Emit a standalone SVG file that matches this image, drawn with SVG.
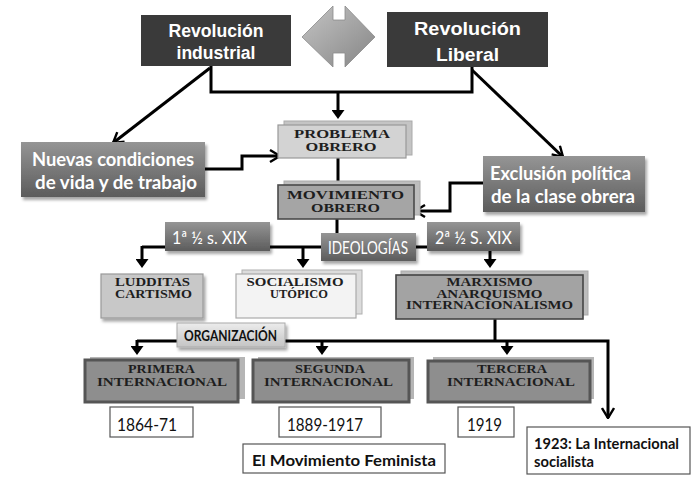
<svg xmlns="http://www.w3.org/2000/svg" width="697" height="483" viewBox="0 0 697 483">
<style>
.ln{fill:none;stroke:#000;stroke-width:3}
.rev{font-family:"Liberation Sans",Arial,sans-serif;font-weight:bold;font-size:18px;fill:#fff;text-anchor:middle}
.w{font-family:Lato,"Open Sans",sans-serif;font-weight:bold;font-size:18px;fill:#fff}
.wr{font-family:Lato,"Open Sans",sans-serif;font-size:18px;fill:#fff}
.s{font-family:"Liberation Serif","Times New Roman",serif;font-weight:bold;font-size:11.5px;fill:#1e1e1e;text-anchor:middle}
.c{font-family:Lato,"Open Sans",sans-serif;font-size:17px;fill:#111}
.cb{font-family:Lato,"Open Sans",sans-serif;font-weight:bold;font-size:15px;fill:#111}
.wb{fill:#fff;stroke:#555;stroke-width:1.2}
</style>
<defs>
<linearGradient id="gg" x1="0" y1="0" x2="0" y2="1">
<stop offset="0" stop-color="#959595"/><stop offset="1" stop-color="#5c5c5c"/>
</linearGradient>
<linearGradient id="gl" x1="0" y1="0" x2="0" y2="1">
<stop offset="0" stop-color="#ececec"/><stop offset="1" stop-color="#c4c4c4"/>
</linearGradient>
<linearGradient id="ga" x1="0" y1="0" x2="1" y2="1">
<stop offset="0" stop-color="#c4c4c4"/><stop offset="1" stop-color="#858585"/>
</linearGradient>
<filter id="sh" x="-10%" y="-20%" width="125%" height="150%">
<feDropShadow dx="2" dy="3" stdDeviation="1.8" flood-color="#000" flood-opacity="0.35"/>
</filter>
<marker id="tri" viewBox="0 0 9 13" refX="1" refY="6.5" markerWidth="9" markerHeight="13" markerUnits="userSpaceOnUse" orient="auto">
<path d="M0,0 L9,6.5 L0,13 z" fill="#000"/>
</marker>
<marker id="chev" viewBox="0 0 12 14" refX="11" refY="7" markerWidth="12" markerHeight="14" markerUnits="userSpaceOnUse" orient="auto">
<path d="M1,1 L11,7 L1,13" fill="none" stroke="#000" stroke-width="2.4"/>
</marker>
</defs>
<rect width="697" height="483" fill="#fff"/>

<g id="connectors">
<path class="ln" d="M211,66 V92 H472 V67"/>
<path class="ln" d="M338,92 V111" marker-end="url(#tri)"/>
<path class="ln" d="M210,68 L113,143" marker-end="url(#chev)"/>
<path class="ln" d="M472,70 L563,157" marker-end="url(#chev)"/>
<path class="ln" d="M205,169 H242 V156 H280" marker-end="url(#chev)"/>
<path class="ln" d="M483,183 H450 V211 H415" marker-end="url(#chev)"/>
<path class="ln" d="M338,158 V184" stroke-width="4"/>
<path class="ln" d="M337,219 V233" stroke-width="4"/>
<path class="ln" d="M142,247 H322"/>
<path class="ln" d="M142,246 V260" marker-end="url(#tri)"/>
<path class="ln" d="M303,246 V260" marker-end="url(#tri)"/>
<path class="ln" d="M416,247 H427"/>
<path class="ln" d="M490,251 V260" marker-end="url(#tri)"/>
<path class="ln" d="M495,319 V341" stroke-width="4"/>
<path class="ln" d="M137,341 H608 V418" marker-end="url(#chev)"/>
<path class="ln" d="M137,340 V347" marker-end="url(#tri)"/>
<path class="ln" d="M322,340 V347" marker-end="url(#tri)"/>
<path class="ln" d="M507,340 V347" marker-end="url(#tri)"/>
</g>

<g id="double-arrow">
<polygon points="302,37 333,6 333,20 345,20 345,6 375,37 345,67 345,53 333,53 333,67" fill="url(#ga)" stroke="#8a8a8a" stroke-width="0.8"/>
</g>

<g id="rev-industrial">
<rect x="141" y="15" width="150" height="51" fill="#3a3a3a"/>
<text class="rev" x="216" y="37" textLength="95" lengthAdjust="spacingAndGlyphs">Revolución</text>
<text class="rev" x="216" y="59" textLength="79" lengthAdjust="spacingAndGlyphs">industrial</text>
</g>

<g id="rev-liberal">
<rect x="387" y="12" width="161" height="55" fill="#3a3a3a"/>
<text class="rev" x="467.5" y="35" font-size="20" textLength="107" lengthAdjust="spacingAndGlyphs">Revolución</text>
<text class="rev" x="467.5" y="61" font-size="20" textLength="63" lengthAdjust="spacingAndGlyphs">Liberal</text>
</g>

<g id="nuevas">
<rect x="21" y="142" width="184" height="55" fill="url(#gg)" filter="url(#sh)"/>
<text class="w" x="32" y="166" textLength="162" lengthAdjust="spacingAndGlyphs">Nuevas condiciones</text>
<text class="w" x="35" y="189" textLength="162" lengthAdjust="spacingAndGlyphs">de vida y de trabajo</text>
</g>

<g id="exclusion">
<rect x="483" y="156" width="162" height="56" fill="url(#gg)" filter="url(#sh)"/>
<text class="w" x="490" y="180" textLength="141" lengthAdjust="spacingAndGlyphs">Exclusión política</text>
<text class="w" x="491" y="203" textLength="144" lengthAdjust="spacingAndGlyphs">de la clase obrera</text>
</g>

<g id="problema">
<rect x="284" y="121" width="128" height="34" fill="#c4c4c4" stroke="#aaa"/>
<rect x="278" y="125" width="128" height="33" fill="#d3d3d3" stroke="#999" stroke-width="1.2"/>
<text class="s" x="342" y="138" textLength="96" lengthAdjust="spacingAndGlyphs">PROBLEMA</text>
<text class="s" x="341" y="151" textLength="71" lengthAdjust="spacingAndGlyphs">OBRERO</text>
</g>

<g id="movimiento">
<rect x="284" y="181" width="136" height="34" fill="#bdbdbd" stroke="#aaa"/>
<rect x="278" y="185" width="136" height="34" fill="#a5a5a5" stroke="#4a4a4a" stroke-width="1.6"/>
<text class="s" x="345.5" y="199" textLength="117" lengthAdjust="spacingAndGlyphs">MOVIMIENTO</text>
<text class="s" x="345.5" y="212" textLength="69" lengthAdjust="spacingAndGlyphs">OBRERO</text>
</g>

<g id="siglo1">
<rect x="165" y="222" width="105" height="29" fill="url(#gg)" filter="url(#sh)"/>
<text class="wr" x="172" y="244" textLength="75" lengthAdjust="spacingAndGlyphs">1ª ½ s. XIX</text>
</g>

<g id="ideologias">
<rect x="321" y="233" width="95" height="28" fill="url(#gg)" filter="url(#sh)"/>
<text class="wr" x="328" y="254" textLength="80" lengthAdjust="spacingAndGlyphs">IDEOLOGÍAS</text>
</g>

<g id="siglo2">
<rect x="427" y="222" width="93" height="29" fill="url(#gg)" filter="url(#sh)"/>
<text class="wr" x="435" y="244" textLength="77" lengthAdjust="spacingAndGlyphs">2ª ½ S. XIX</text>
</g>

<g id="ludditas">
<rect x="101" y="274" width="102" height="44" fill="#c8c8c8" stroke="#999" stroke-width="1.2" filter="url(#sh)"/>
<text class="s" x="152.5" y="286" textLength="75" lengthAdjust="spacingAndGlyphs">LUDDITAS</text>
<text class="s" x="153.5" y="298" textLength="77" lengthAdjust="spacingAndGlyphs">CARTISMO</text>
</g>

<g id="socialismo">
<rect x="242" y="270" width="120" height="44" fill="#dcdcdc" stroke="#b0b0b0"/>
<rect x="236" y="274" width="120" height="44" fill="#f3f3f3" stroke="#aaa" stroke-width="1.2"/>
<text class="s" x="295" y="286" textLength="97" lengthAdjust="spacingAndGlyphs">SOCIALISMO</text>
<text class="s" x="299" y="298" textLength="58" lengthAdjust="spacingAndGlyphs">UTÓPICO</text>
</g>

<g id="marxismo">
<rect x="401" y="271" width="187" height="44" fill="#bcbcbc" stroke="#aaa"/>
<rect x="396" y="275" width="187" height="44" fill="#a3a3a3" stroke="#444" stroke-width="1.6"/>
<text class="s" x="489.5" y="286" font-size="10.5" textLength="86" lengthAdjust="spacingAndGlyphs">MARXISMO</text>
<text class="s" x="489.5" y="297.5" font-size="10.5" textLength="106" lengthAdjust="spacingAndGlyphs">ANARQUISMO</text>
<text class="s" x="489.5" y="309" font-size="10.5" textLength="167" lengthAdjust="spacingAndGlyphs">INTERNACIONALISMO</text>
</g>

<g id="organizacion">
<rect x="177" y="323" width="108" height="24" fill="url(#gl)" stroke="#aaa" filter="url(#sh)"/>
<text class="cb" x="184" y="341" font-size="14" textLength="93" lengthAdjust="spacingAndGlyphs">ORGANIZACIÓN</text>
</g>

<g id="primera">
<rect x="90" y="357" width="155" height="42" fill="#b5b5b5"/>
<rect x="85" y="360" width="153" height="42" fill="#8e8e8e" stroke="#555" stroke-width="3"/>
<text class="s" x="161.5" y="373" font-size="10.5" textLength="67" lengthAdjust="spacingAndGlyphs">PRIMERA</text>
<text class="s" x="162" y="386" textLength="130" lengthAdjust="spacingAndGlyphs">INTERNACIONAL</text>
</g>

<g id="segunda">
<rect x="258" y="357" width="156" height="42" fill="#b5b5b5"/>
<rect x="253" y="360" width="156" height="42" fill="#8e8e8e" stroke="#555" stroke-width="3"/>
<text class="s" x="330" y="373" font-size="10.5" textLength="70" lengthAdjust="spacingAndGlyphs">SEGUNDA</text>
<text class="s" x="328.5" y="386" textLength="129" lengthAdjust="spacingAndGlyphs">INTERNACIONAL</text>
</g>

<g id="tercera">
<rect x="433" y="357" width="161" height="42" fill="#b5b5b5"/>
<rect x="428" y="361" width="162" height="41" fill="#8e8e8e" stroke="#555" stroke-width="3"/>
<text class="s" x="512" y="373" font-size="10.5" textLength="70" lengthAdjust="spacingAndGlyphs">TERCERA</text>
<text class="s" x="511" y="386" textLength="128" lengthAdjust="spacingAndGlyphs">INTERNACIONAL</text>
</g>

<g id="d1864">
<rect class="wb" x="110" y="407" width="83" height="30"/>
<text class="c" x="117" y="431" textLength="60" lengthAdjust="spacingAndGlyphs">1864-71</text>
</g>

<g id="d1889">
<rect class="wb" x="279" y="407" width="102" height="30"/>
<text class="c" x="287" y="431" textLength="76" lengthAdjust="spacingAndGlyphs">1889-1917</text>
</g>

<g id="d1919">
<rect class="wb" x="458" y="407" width="56" height="30"/>
<text class="c" x="467" y="431" textLength="35" lengthAdjust="spacingAndGlyphs">1919</text>
</g>

<g id="feminista">
<rect class="wb" x="243" y="444" width="202" height="29"/>
<text class="cb" x="252" y="466" font-size="17" textLength="184" lengthAdjust="spacingAndGlyphs">El Movimiento Feminista</text>
</g>

<g id="d1923">
<rect class="wb" x="527" y="427" width="163" height="47"/>
<text class="cb" x="534" y="449" font-size="14" textLength="145" lengthAdjust="spacingAndGlyphs">1923: La Internacional</text>
<text class="cb" x="534" y="467" font-size="14" textLength="60" lengthAdjust="spacingAndGlyphs">socialista</text>
</g>
</svg>
